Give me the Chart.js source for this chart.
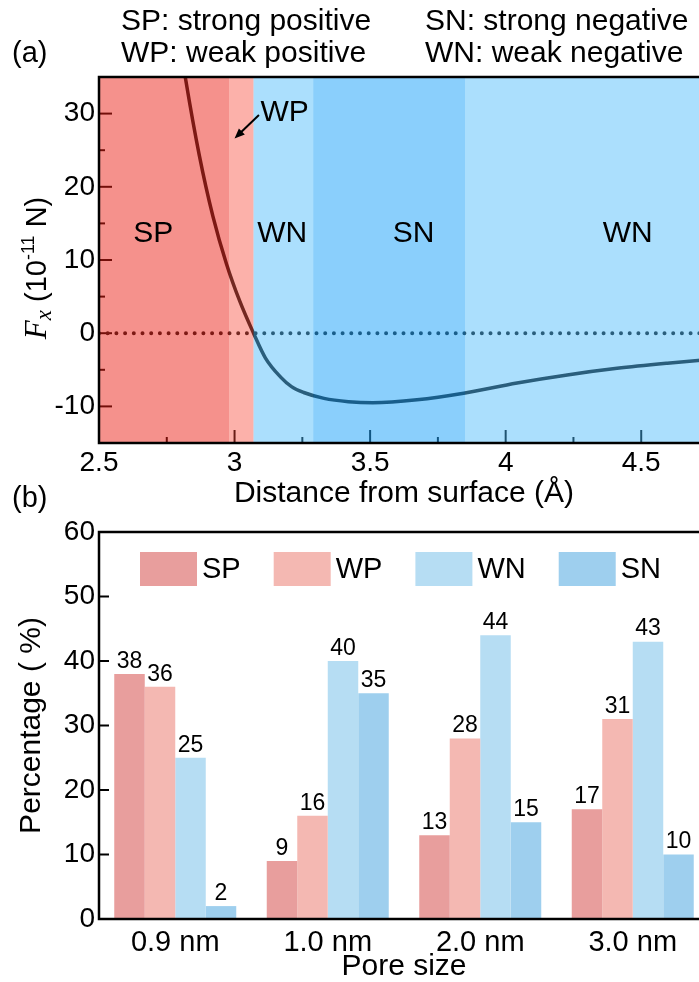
<!DOCTYPE html>
<html>
<head>
<meta charset="utf-8">
<script src="https://cdn.jsdelivr.net/npm/chart.js@4.4.1/dist/chart.umd.min.js"></script>
<style>
  html, body { margin: 0; padding: 0; background: #fff; }
  #page { position: relative; width: 699px; height: 982px; overflow: hidden;
          font-family: "Liberation Sans", Arial, sans-serif; color: #000; }
  #page canvas { position: absolute; left: 0; }
  .txt { position: absolute; font-size: 30px; line-height: 30px; white-space: nowrap; }
</style>
</head>
<body>
<div id="page">
  <canvas id="forceChart" width="712" height="515" style="top:0"></canvas>
  <canvas id="poreChart" width="712" height="472" style="top:510px"></canvas>
  <div class="txt" style="left:12px;top:37px;font-size:29px">(a)</div>
  <div class="txt" style="left:121px;top:5px">SP: strong positive</div>
  <div class="txt" style="left:121px;top:37px">WP: weak positive</div>
  <div class="txt" style="left:425px;top:5px">SN: strong negative</div>
  <div class="txt" style="left:425px;top:37px">WN: weak negative</div>
  <div class="txt" style="left:12px;top:482px;font-size:29px">(b)</div>
</div>
<script>
// panel (a): F_x against distance from the surface
const distance = [2.80, 2.82, 2.87, 2.92, 2.97, 3.02, 3.07, 3.114, 3.17, 3.21, 3.255, 3.33, 3.42, 3.51, 3.673, 3.845, 4.042, 4.227, 4.411, 4.596, 4.75];
const force    = [39.4, 34.6, 24.3, 16.0, 9.5, 4.3, 0.0, -3.4, -6.0, -7.3, -8.1, -8.9, -9.35, -9.5, -9.1, -8.2, -6.8, -5.7, -4.8, -4.1, -3.6];
const regionEdges = [2.5, 2.98, 3.07, 3.29, 3.85, 4.75];
const regionKinds = ['SP', 'WP', 'WN', 'SN', 'WN'];
const xTickValues = [2.5, 3, 3.5, 4, 4.5];
const xMinorTicks = [2.75, 3.25, 3.75, 4.25];
const yTickValues = [-10, 0, 10, 20, 30];
const yMinorTicks = [-5, 5, 15, 25];

// panel (b): share of each force class per pore size
const poreSizes = ['0.9 nm', '1.0 nm', '2.0 nm', '3.0 nm'];
const spPct = [38, 9, 13, 17];
const wpPct = [36, 16, 28, 31];
const wnPct = [25, 40, 44, 43];
const snPct = [2, 35, 15, 10];
const pctTicks = [0, 10, 20, 30, 40, 50, 60];

const SANS = '"Liberation Sans", Arial, sans-serif';
const SERIF = '"Liberation Serif", "Times New Roman", serif';

// translucent bands, laid over the curve so it takes their tint
const bandFill = {
  SP: 'rgba(235,31,20,0.49)',
  WP: 'rgba(248,69,52,0.42)',
  WN: 'rgba(69,184,251,0.45)',
  SN: 'rgba(31,163,250,0.52)'
};

function tick(ctx, px, py, dx, dy) {
  ctx.beginPath();
  ctx.moveTo(px, py);
  ctx.lineTo(px + dx, py + dy);
  ctx.stroke();
}

const forcePanel = {
  id: 'forcePanel',
  beforeDatasetsDraw(chart) {
    const { ctx, chartArea: a, scales: { x, y } } = chart;
    ctx.save();
    ctx.strokeStyle = '#000';
    ctx.lineWidth = 2;
    xTickValues.forEach(v => tick(ctx, x.getPixelForValue(v), a.bottom, 0, -13));
    xMinorTicks.forEach(v => tick(ctx, x.getPixelForValue(v), a.bottom, 0, -6));
    yTickValues.forEach(v => tick(ctx, a.left, y.getPixelForValue(v), 13, 0));
    yMinorTicks.forEach(v => tick(ctx, a.left, y.getPixelForValue(v), 6, 0));
    ctx.restore();
  },
  afterDatasetsDraw(chart) {
    const { ctx, chartArea: a, scales: { x, y } } = chart;
    ctx.save();
    regionKinds.forEach((k, i) => {
      const x0 = x.getPixelForValue(regionEdges[i]);
      const x1 = x.getPixelForValue(regionEdges[i + 1]);
      ctx.fillStyle = bandFill[k];
      ctx.fillRect(x0, a.top, x1 - x0, a.height);
    });

    ctx.strokeStyle = '#000';
    ctx.lineWidth = 2.5;
    ctx.strokeRect(a.left, a.top, a.width, a.height);

    // band names
    ctx.fillStyle = '#000';
    ctx.font = '30px ' + SANS;
    ctx.textAlign = 'center';
    ctx.textBaseline = 'middle';
    [['SP', 2.70], ['WN', 3.176], ['SN', 3.66], ['WN', 4.45]].forEach(([t, xv]) => {
      ctx.fillText(t, x.getPixelForValue(xv), y.getPixelForValue(13.6));
    });
    ctx.fillText('WP', x.getPixelForValue(3.185), y.getPixelForValue(30.1));

    // arrow pointing into the narrow WP band
    const tx = x.getPixelForValue(3.09), ty = y.getPixelForValue(29.8);
    const hx = x.getPixelForValue(3.0), hy = y.getPixelForValue(26.6);
    const ang = Math.atan2(hy - ty, hx - tx);
    ctx.lineWidth = 2;
    ctx.beginPath();
    ctx.moveTo(tx, ty);
    ctx.lineTo(hx - 6 * Math.cos(ang), hy - 6 * Math.sin(ang));
    ctx.stroke();
    ctx.beginPath();
    ctx.moveTo(hx, hy);
    ctx.lineTo(hx - 11 * Math.cos(ang - 0.4), hy - 11 * Math.sin(ang - 0.4));
    ctx.lineTo(hx - 11 * Math.cos(ang + 0.4), hy - 11 * Math.sin(ang + 0.4));
    ctx.closePath();
    ctx.fill();
    ctx.restore();
  },
  afterDraw(chart) {
    // y title with italic F, subscript x and superscript exponent
    const { ctx } = chart;
    const parts = [
      { t: 'F', font: 'italic 31px ' + SERIF, dy: 0 },
      { t: 'x', font: 'italic 23px ' + SERIF, dy: 7 },
      { t: ' (10', font: '29px ' + SANS, dy: 0 },
      { t: '-11', font: '18px ' + SANS, dy: -9 },
      { t: ' N)', font: '29px ' + SANS, dy: 0 }
    ];
    ctx.save();
    let total = 0;
    parts.forEach(p => { ctx.font = p.font; p.w = ctx.measureText(p.t).width; total += p.w; });
    ctx.translate(38, 268);
    ctx.rotate(-Math.PI / 2);
    ctx.fillStyle = '#000';
    ctx.textBaseline = 'middle';
    ctx.textAlign = 'left';
    let cx = -total / 2;
    parts.forEach(p => { ctx.font = p.font; ctx.fillText(p.t, cx, p.dy); cx += p.w; });
    ctx.restore();
  }
};

new Chart(document.getElementById('forceChart'), {
  type: 'line',
  data: {
    datasets: [
      {
        data: distance.map((d, i) => ({ x: d, y: force[i] })),
        borderColor: '#141414',
        borderWidth: 3.5,
        pointRadius: 0,
        cubicInterpolationMode: 'monotone',
        clip: 0
      },
      {
        data: [{ x: regionEdges[0], y: 0 }, { x: regionEdges[regionEdges.length - 1], y: 0 }],
        borderColor: '#141414',
        borderWidth: 4,
        borderDash: [0, 8.7],
        borderCapStyle: 'round',
        pointRadius: 0,
        clip: 0
      }
    ]
  },
  options: {
    responsive: false,
    animation: false,
    events: [],
    layout: { padding: { top: 77, right: 3, left: 0, bottom: 0 } },
    plugins: { legend: { display: false }, tooltip: { enabled: false } },
    scales: {
      x: {
        type: 'linear',
        min: 2.5,
        max: 4.75,
        afterBuildTicks: s => { s.ticks = xTickValues.map(v => ({ value: v })); },
        afterFit: s => { s.height = 72; },
        grid: { display: false, drawTicks: false },
        border: { display: false },
        ticks: { color: '#000', font: { family: SANS, size: 28 }, padding: 3, maxRotation: 0,
                 callback: v => String(v) },
        title: {
          display: true,
          text: 'Distance from surface (Å)',
          color: '#000',
          font: { family: SANS, size: 30, lineHeight: 1 },
          padding: { top: 0, bottom: 6 }
        }
      },
      y: {
        min: -15,
        max: 35,
        afterBuildTicks: s => { s.ticks = yTickValues.map(v => ({ value: v })); },
        afterFit: s => { s.width = 99; },
        grid: { display: false, drawTicks: false },
        border: { display: false },
        ticks: { color: '#000', font: { family: SANS, size: 28 }, padding: 4 }
      }
    }
  },
  plugins: [forcePanel]
});

const porePanel = {
  id: 'porePanel',
  beforeDatasetsDraw(chart) {
    const { ctx, chartArea: a, scales: { y } } = chart;
    ctx.save();
    ctx.strokeStyle = '#000';
    ctx.lineWidth = 2;
    pctTicks.slice(1, -1).forEach(v => tick(ctx, a.left, y.getPixelForValue(v), 10, 0));
    ctx.restore();
  },
  afterDatasetsDraw(chart) {
    const { ctx, chartArea: a } = chart;
    ctx.save();
    ctx.fillStyle = '#000';
    ctx.font = '23px ' + SANS;
    ctx.textAlign = 'center';
    ctx.textBaseline = 'bottom';
    chart.data.datasets.forEach((ds, i) => {
      chart.getDatasetMeta(i).data.forEach((bar, j) => {
        ctx.fillText(String(ds.data[j]), bar.x, bar.y - 1);
      });
    });

    // legend row inside the plot, one swatch per class
    ctx.font = '29px ' + SANS;
    ctx.textAlign = 'left';
    ctx.textBaseline = 'middle';
    const top = a.top + 20;
    let lx = a.left + 41;
    chart.data.datasets.forEach(ds => {
      ctx.fillStyle = ds.backgroundColor;
      ctx.fillRect(lx, top, 57, 34);
      ctx.fillStyle = '#000';
      ctx.fillText(ds.label, lx + 62, top + 18);
      lx += 62 + ctx.measureText(ds.label).width + 33;
    });

    ctx.strokeStyle = '#000';
    ctx.lineWidth = 2.5;
    ctx.strokeRect(a.left, a.top, a.width, a.height);
    ctx.restore();
  }
};

new Chart(document.getElementById('poreChart'), {
  type: 'bar',
  data: {
    labels: poreSizes,
    datasets: [
      { label: 'SP', data: spPct, backgroundColor: '#e89e9d' },
      { label: 'WP', data: wpPct, backgroundColor: '#f4b8b2' },
      { label: 'WN', data: wnPct, backgroundColor: '#b6ddf3' },
      { label: 'SN', data: snPct, backgroundColor: '#9ecfee' }
    ]
  },
  options: {
    responsive: false,
    animation: false,
    events: [],
    layout: { padding: { top: 22, right: 3, left: 0, bottom: 0 } },
    datasets: { bar: { categoryPercentage: 0.8, barPercentage: 1.0, borderWidth: 0 } },
    plugins: {
      tooltip: { enabled: false },
      legend: { display: false }
    },
    scales: {
      x: {
        afterFit: s => { s.height = 63; },
        grid: { display: false, drawTicks: false },
        border: { display: false },
        ticks: { color: '#000', font: { family: SANS, size: 29 }, padding: 7 },
        title: {
          display: true,
          text: 'Pore size',
          color: '#000',
          font: { family: SANS, size: 30, lineHeight: 1 },
          padding: { top: 0, bottom: 0 }
        }
      },
      y: {
        min: 0,
        max: 60,
        afterBuildTicks: s => { s.ticks = pctTicks.map(v => ({ value: v })); },
        afterFit: s => { s.width = 99; },
        grid: { display: false, drawTicks: false },
        border: { display: false },
        ticks: { color: '#000', font: { family: SANS, size: 28 }, padding: 4 },
        title: {
          display: true,
          text: 'Percentage ( %)',
          color: '#000',
          font: { family: SANS, size: 30, lineHeight: 1 },
          padding: { top: 17, bottom: 0 }
        }
      }
    }
  },
  plugins: [porePanel]
});
</script>
</body>
</html>
